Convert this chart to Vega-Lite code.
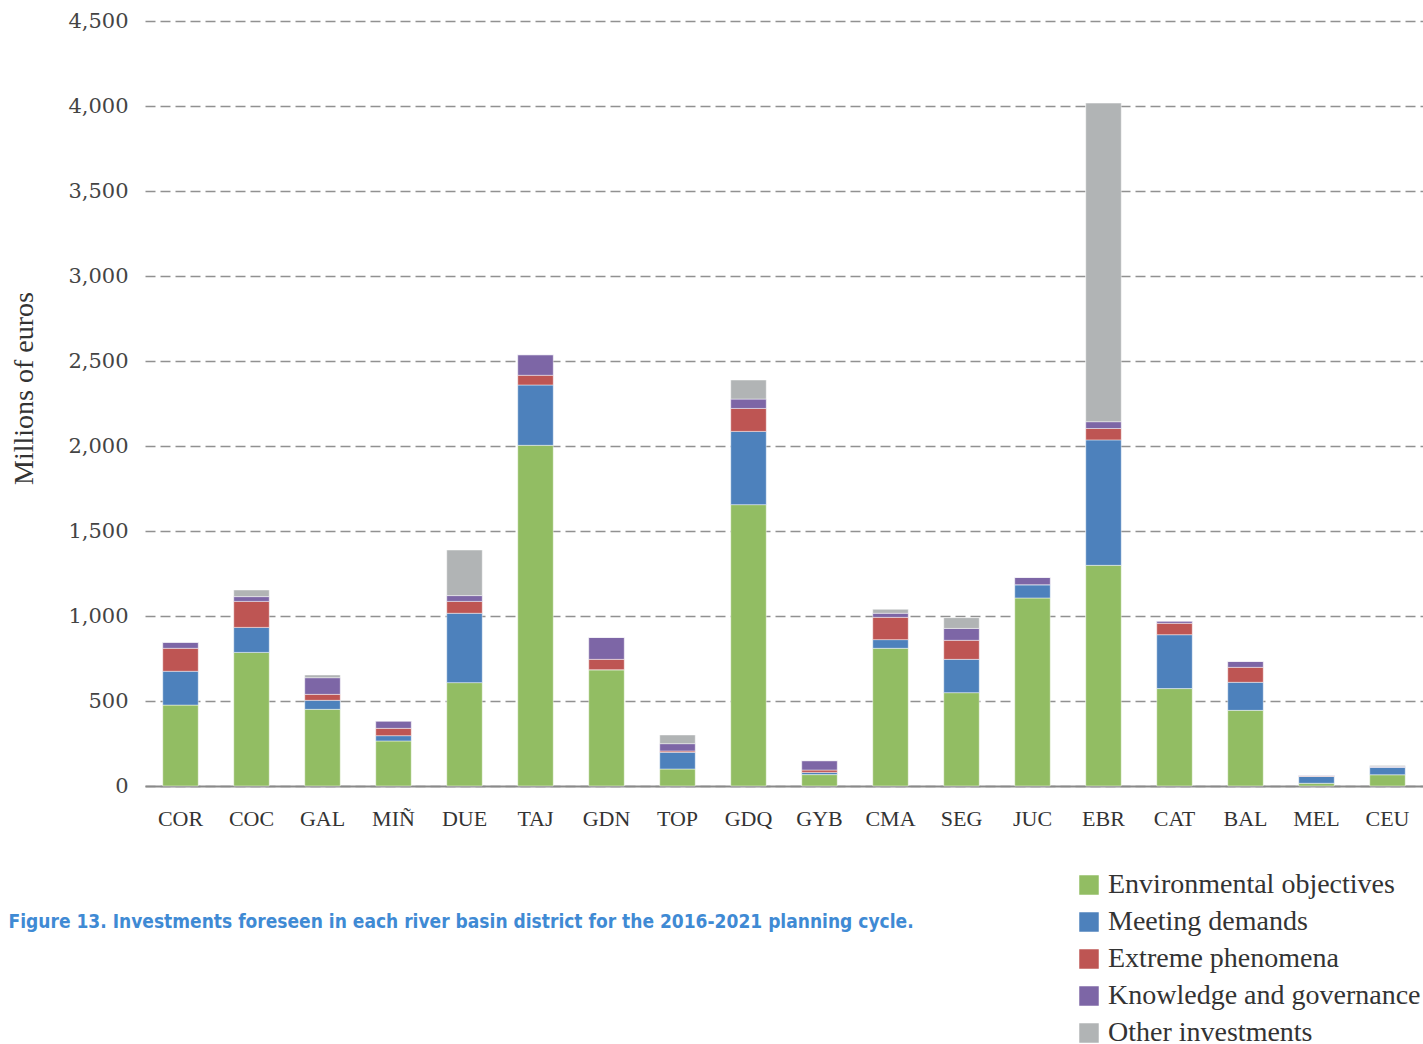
{
  "$schema": "https://vega.github.io/schema/vega-lite/v6.json",
  "autosize": {"type": "none"},
  "width": 1278,
  "height": 765,
  "padding": {"left": 145, "top": 21, "right": 0, "bottom": 258},
  "background": "white",
  "data": {
    "values": [
      {"district": "COR", "Environmental objectives": 476, "Meeting demands": 199, "Extreme phenomena": 135, "Knowledge and governance": 35, "Other investments": 0},
      {"district": "COC", "Environmental objectives": 786, "Meeting demands": 147, "Extreme phenomena": 153, "Knowledge and governance": 28, "Other investments": 39},
      {"district": "GAL", "Environmental objectives": 451, "Meeting demands": 53, "Extreme phenomena": 35, "Knowledge and governance": 98, "Other investments": 16},
      {"district": "MIÑ", "Environmental objectives": 265, "Meeting demands": 31, "Extreme phenomena": 43, "Knowledge and governance": 43, "Other investments": 0},
      {"district": "DUE", "Environmental objectives": 608, "Meeting demands": 408, "Extreme phenomena": 70, "Knowledge and governance": 34, "Other investments": 268},
      {"district": "TAJ", "Environmental objectives": 2004, "Meeting demands": 355, "Extreme phenomena": 57, "Knowledge and governance": 121, "Other investments": 0},
      {"district": "GDN", "Environmental objectives": 684, "Meeting demands": 0, "Extreme phenomena": 61, "Knowledge and governance": 129, "Other investments": 0},
      {"district": "TOP", "Environmental objectives": 100, "Meeting demands": 98, "Extreme phenomena": 8, "Knowledge and governance": 43, "Other investments": 51},
      {"district": "GDQ", "Environmental objectives": 1655, "Meeting demands": 431, "Extreme phenomena": 135, "Knowledge and governance": 55, "Other investments": 112},
      {"district": "GYB", "Environmental objectives": 67, "Meeting demands": 13, "Extreme phenomena": 14, "Knowledge and governance": 55, "Other investments": 0},
      {"district": "CMA", "Environmental objectives": 810, "Meeting demands": 51, "Extreme phenomena": 131, "Knowledge and governance": 24, "Other investments": 23},
      {"district": "SEG", "Environmental objectives": 549, "Meeting demands": 196, "Extreme phenomena": 112, "Knowledge and governance": 70, "Other investments": 63},
      {"district": "JUC", "Environmental objectives": 1106, "Meeting demands": 78, "Extreme phenomena": 0, "Knowledge and governance": 43, "Other investments": 0},
      {"district": "EBR", "Environmental objectives": 1298, "Meeting demands": 738, "Extreme phenomena": 67, "Knowledge and governance": 40, "Other investments": 1874},
      {"district": "CAT", "Environmental objectives": 573, "Meeting demands": 317, "Extreme phenomena": 67, "Knowledge and governance": 13, "Other investments": 0},
      {"district": "BAL", "Environmental objectives": 445, "Meeting demands": 165, "Extreme phenomena": 88, "Knowledge and governance": 35, "Other investments": 0},
      {"district": "MEL", "Environmental objectives": 16, "Meeting demands": 40, "Extreme phenomena": 3, "Knowledge and governance": 4, "Other investments": 0},
      {"district": "CEU", "Environmental objectives": 66, "Meeting demands": 44, "Extreme phenomena": 0, "Knowledge and governance": 5, "Other investments": 6}
    ]
  },
  "transform": [
    {"fold": ["Environmental objectives", "Meeting demands", "Extreme phenomena", "Knowledge and governance", "Other investments"], "as": ["category", "value"]},
    {"window": [{"op": "row_number", "as": "stackIndex"}], "groupby": ["district"]}
  ],
  "mark": {"type": "bar", "stroke": "#ffffff", "strokeWidth": 1, "strokeOpacity": 0.45},
  "encoding": {
    "x": {
      "field": "district",
      "type": "nominal",
      "sort": null,
      "scale": {"paddingInner": 0.5, "paddingOuter": 0.25},
      "axis": {
        "title": "Figure 13. Investments foreseen in each river basin district for the 2016-2021 planning cycle.",
        "titleFont": "'Liberation Sans Narrow', 'DejaVu Sans Condensed', sans-serif",
        "titleFontSize": 19,
        "titleFontWeight": "bold",
        "titleColor": "#3f8ad4",
        "titleAnchor": "start",
        "titleAlign": "left",
        "titleBaseline": "alphabetic",
        "titleX": -137,
        "titleY": 141,
        "labelAngle": 0,
        "labelFont": "Liberation Serif",
        "labelFontSize": 22,
        "labelColor": "#333333",
        "labelPadding": 22,
        "ticks": false,
        "domain": true,
        "domainColor": "#8a8a8a",
        "domainWidth": 2
      }
    },
    "y": {
      "field": "value",
      "type": "quantitative",
      "stack": "zero",
      "scale": {"domain": [0, 4500], "nice": false},
      "axis": {
        "title": "Millions of euros",
        "titleFont": "Liberation Serif",
        "titleFontSize": 28,
        "titleFontWeight": "normal",
        "titleColor": "#333333",
        "titleX": -121,
        "titleY": 367,
        "titleAngle": -90,
        "titleAlign": "center",
        "titleBaseline": "middle",
        "values": [0, 500, 1000, 1500, 2000, 2500, 3000, 3500, 4000, 4500],
        "format": ",d",
        "labelFont": "DejaVu Serif",
        "labelFontSize": 21,
        "labelColor": "#444444",
        "labelPadding": 17,
        "ticks": false,
        "domain": false,
        "grid": true,
        "gridColor": "#919191",
        "gridWidth": 1.5,
        "gridDash": [10, 5]
      }
    },
    "color": {
      "field": "category",
      "type": "nominal",
      "sort": ["Environmental objectives", "Meeting demands", "Extreme phenomena", "Knowledge and governance", "Other investments"],
      "scale": {
        "domain": ["Environmental objectives", "Meeting demands", "Extreme phenomena", "Knowledge and governance", "Other investments"],
        "range": ["#92bd63", "#4d81bc", "#be5553", "#7d66a6", "#b1b4b5"]
      },
      "legend": {
        "title": null,
        "orient": "none",
        "legendX": 930,
        "legendY": 850,
        "symbolType": "square",
        "symbolSize": 380,
        "symbolStrokeWidth": 0,
        "labelFont": "Liberation Serif",
        "labelFontSize": 28,
        "labelColor": "#333333",
        "labelLimit": 1000,
        "labelOffset": 5,
        "rowPadding": 9
      }
    },
    "order": {"field": "stackIndex", "type": "quantitative", "sort": "ascending"}
  },
  "config": {
    "view": {"stroke": null}
  }
}
